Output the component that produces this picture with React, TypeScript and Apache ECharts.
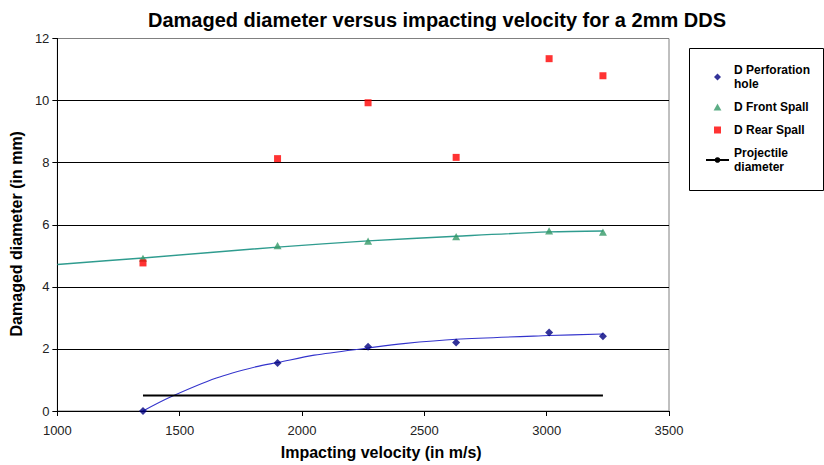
import React, { useEffect, useRef } from "react";
import * as echarts from "echarts";

const velocity = [1350, 1900, 2270, 2630, 3010, 3230];
const perforationHole = [0, 1.55, 2.07, 2.21, 2.53, 2.41];
const frontSpall = [4.92, 5.33, 5.47, 5.62, 5.8, 5.76];
const rearSpall = [4.77, 8.13, 9.93, 8.17, 11.35, 10.8];
const projectileX = [1350, 3230];
const projectileY = [0.5, 0.5];
const perfTrendX = [1350, 1460, 1650, 1815, 1900, 2050, 2270, 2415, 2630, 3010, 3230];
const perfTrendY = [0, 0.44, 1.06, 1.43, 1.56, 1.8, 2.03, 2.17, 2.31, 2.43, 2.48];
const frontTrendX = [1000, 1350, 1900, 2270, 2630, 3010, 3230];
const frontTrendY = [4.72, 4.93, 5.28, 5.48, 5.63, 5.77, 5.8];

const legendNames = ["D Perforation hole", "D Front Spall", "D Rear Spall", "Projectile diameter"];
const FONT = "'Liberation Sans', Arial, sans-serif";

const DIAMOND = "path://M5,0L10,5L5,10L0,5Z";
const TRIANGLE = "path://M5,0L10,9L0,9Z";
const SQUARE = "path://M0,0H10V10H0Z";

const pairs = (xs: number[], ys: number[]) => xs.map((x, i) => [x, ys[i]]);

export default function App() {
  const ref = useRef<HTMLDivElement>(null);
  useEffect(() => {
    if (!ref.current) return;
    const chart = echarts.init(ref.current, undefined, { renderer: "svg" });
    chart.setOption({
      animation: false,
      backgroundColor: "#fff",
      textStyle: { fontFamily: FONT },
      title: {
        text: "Damaged diameter versus impacting velocity for a 2mm DDS",
        left: 143,
        top: 5,
        textStyle: { fontFamily: FONT, fontSize: 20, fontWeight: "bold", color: "#000" },
      },
      grid: {
        left: 57,
        right: 155,
        top: 38.5,
        bottom: 48.5,
        show: true,
        borderColor: "#808080",
        borderWidth: 1,
        backgroundColor: "#fff",
      },
      legend: {
        data: legendNames,
        orient: "vertical",
        left: 705,
        top: 63,
        padding: 0,
        itemGap: 9,
        itemWidth: 23,
        itemHeight: 7,
        formatter: (n: string) =>
          n === "D Perforation hole" ? "D Perforation\nhole" : n === "Projectile diameter" ? "Projectile\ndiameter" : n,
        textStyle: { fontFamily: FONT, fontSize: 12, fontWeight: "bold", color: "#000", lineHeight: 14 },
      },
      graphic: [
        {
          type: "rect",
          shape: { x: 689.5, y: 48.5, width: 134, height: 142 },
          style: { fill: "none", stroke: "#000", lineWidth: 1 },
        },
      ],
      xAxis: {
        type: "value",
        min: 1000,
        max: 3500,
        interval: 500,
        name: "Impacting velocity (in m/s)",
        nameLocation: "middle",
        nameGap: 33,
        nameTextStyle: {
          fontFamily: FONT,
          fontSize: 16,
          fontWeight: "bold",
          color: "#000",
          padding: [0, 0, 0, 36],
        },
        axisLine: { lineStyle: { color: "#000", width: 1 } },
        axisTick: { show: true, length: 5, lineStyle: { color: "#000" } },
        axisLabel: {
          fontFamily: FONT,
          fontSize: 13,
          color: "#222",
          margin: 13,
          formatter: (v: number) => String(v),
        },
        splitLine: { show: false },
      },
      yAxis: {
        type: "value",
        min: 0,
        max: 12,
        interval: 2,
        name: "Damaged diameter (in mm)",
        nameLocation: "middle",
        nameGap: 32,
        nameRotate: 90,
        nameTextStyle: {
          fontFamily: FONT,
          fontSize: 16,
          fontWeight: "bold",
          color: "#000",
          padding: [0, 18, 0, 0],
        },
        axisLine: { show: true, lineStyle: { color: "#000", width: 1 } },
        axisTick: { show: true, length: 5, lineStyle: { color: "#000" } },
        axisLabel: { fontFamily: FONT, fontSize: 13, color: "#222", margin: 8 },
        splitLine: {
          show: true,
          lineStyle: { color: ["#000", "#000", "#000", "#000", "#000", "#000", "#808080"], width: 1 },
        },
      },
      series: [
        {
          name: "Perforation trend",
          type: "line",
          data: pairs(perfTrendX, perfTrendY),
          smooth: 0.3,
          symbol: "none",
          lineStyle: { color: "#3333cc", width: 1.1 },
          z: 2,
        },
        {
          name: "Front trend",
          type: "line",
          data: pairs(frontTrendX, frontTrendY),
          smooth: 0.3,
          symbol: "none",
          lineStyle: { color: "#2f9c8f", width: 1.4 },
          z: 2,
        },
        {
          name: "Projectile diameter",
          type: "line",
          data: pairs(projectileX, projectileY),
          symbol: "none",
          color: "#000",
          lineStyle: { color: "#000", width: 2 },
          z: 3,
        },
        {
          name: "D Perforation hole",
          type: "scatter",
          data: pairs(velocity, perforationHole),
          symbol: DIAMOND,
          symbolKeepAspect: true,
          symbolSize: 8,
          itemStyle: { color: "#000080" },
          z: 4,
        },
        {
          name: "D Front Spall",
          type: "scatter",
          data: pairs(velocity, frontSpall),
          symbol: TRIANGLE,
          symbolKeepAspect: true,
          symbolSize: 8,
          itemStyle: { color: "#339966" },
          z: 4,
        },
        {
          name: "D Rear Spall",
          type: "scatter",
          data: pairs(velocity, rearSpall),
          symbol: SQUARE,
          symbolKeepAspect: true,
          symbolSize: 7,
          itemStyle: { color: "#ff0000" },
          z: 4,
        },
      ],
    });
    return () => chart.dispose();
  }, []);
  return <div ref={ref} style={{ position: "absolute", left: 0, top: 0, width: 824, height: 465 }} />;
}
